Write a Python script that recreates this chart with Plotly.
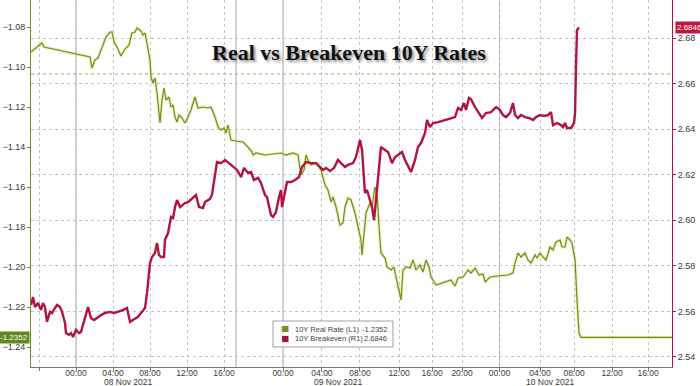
import plotly.graph_objects as go

# ---- data (x = position on the chart's intraday session index, hours from 08 Nov 00:00) ----
real_x = [-4.86, -3.68, -3.46, 1.51, 1.73, 2.05, 2.38, 2.70, 3.03, 3.24, 3.68, 3.89, 4.11, 4.43,
          4.86, 5.30, 5.73, 6.05, 6.38, 6.59, 7.03, 7.24, 7.46, 7.78, 8.00, 8.11, 8.32, 8.54, 8.76,
          9.08, 9.30, 9.51, 9.73, 10.05, 10.27, 10.49, 10.70, 10.92, 11.14, 11.46, 11.78, 12.11,
          12.43, 12.86, 13.19, 13.73, 14.27, 14.59, 15.03, 15.35, 15.68, 16.00, 16.22, 16.43, 16.76,
          17.30, 18.05, 18.59, 19.03, 19.14, 19.46, 20.43, 21.51, 22.16, 22.70, 23.46, 24.00, 24.32,
          24.65, 24.86, 25.08, 25.41, 25.95, 26.49, 26.92, 27.24, 27.57, 27.78, 28.11, 28.54, 28.86,
          29.08, 29.41, 29.73, 30.16, 30.49, 30.81, 30.92, 31.14, 31.35, 31.78, 32.00, 32.32, 32.54,
          32.76, 32.97, 33.41, 33.62, 34.05, 34.38, 34.59, 34.92, 35.14, 35.35, 35.68, 36.11, 36.43,
          36.76, 37.19, 37.51, 37.84, 38.16, 38.38, 38.92, 39.89, 40.54, 40.97, 41.30, 41.84, 42.38,
          42.70, 43.14, 43.57, 44.00, 44.22, 44.76, 45.62, 46.70, 47.24, 47.46, 47.78, 48.11, 48.54,
          48.86, 49.19, 49.62, 49.84, 50.16, 50.49, 50.81, 51.24, 51.57, 51.89, 52.32, 52.54, 52.86,
          53.08, 53.41, 53.62, 53.95, 54.16, 54.38, 54.59, 64.43]
real_y = [-1.0925, -1.088, -1.090, -1.095, -1.1005, -1.0965, -1.0955, -1.0915, -1.0875, -1.085,
          -1.0825, -1.0825, -1.0875, -1.090, -1.0945, -1.091, -1.089, -1.083, -1.0825, -1.0805,
          -1.082, -1.084, -1.083, -1.090, -1.0965, -1.105, -1.108, -1.1055, -1.113, -1.128, -1.1165,
          -1.1105, -1.1165, -1.115, -1.120, -1.119, -1.125, -1.1275, -1.124, -1.1255, -1.128, -1.125,
          -1.1215, -1.115, -1.1205, -1.120, -1.1205, -1.120, -1.125, -1.130, -1.1315, -1.1305,
          -1.133, -1.129, -1.1365, -1.137, -1.1375, -1.140, -1.1425, -1.144, -1.143, -1.144,
          -1.1435, -1.143, -1.144, -1.143, -1.144, -1.154, -1.1515, -1.144, -1.1465, -1.149, -1.148,
          -1.1515, -1.159, -1.1615, -1.1675, -1.165, -1.170, -1.179, -1.178, -1.170, -1.1655,
          -1.1665, -1.173, -1.180, -1.1865, -1.194, -1.183, -1.173, -1.168, -1.170, -1.160, -1.163,
          -1.180, -1.193, -1.1955, -1.200, -1.2015, -1.200, -1.205, -1.2115, -1.2165, -1.2015,
          -1.200, -1.2005, -1.1965, -1.2015, -1.199, -1.2025, -1.1965, -1.200, -1.205, -1.209,
          -1.2075, -1.2065, -1.2095, -1.2055, -1.205, -1.2015, -1.203, -1.2005, -1.204, -1.2035,
          -1.2075, -1.205, -1.2045, -1.204, -1.203, -1.198, -1.193, -1.195, -1.193, -1.1965, -1.198,
          -1.194, -1.1955, -1.193, -1.195, -1.1965, -1.190, -1.1915, -1.1875, -1.1865, -1.190,
          -1.190, -1.185, -1.1865, -1.188, -1.1965, -1.2165, -1.233, -1.2352, -1.2352]

be_x = [-4.86, -4.65, -4.43, -4.11, -3.78, -3.57, -3.35, -3.14, -2.81, -2.59, -2.27, -2.05, -1.73,
        -1.51, -1.19, -1.08, -0.76, -0.54, -0.32, 0.00, 0.32, 0.54, 0.97, 1.30, 1.62, 1.95, 2.27,
        2.70, 3.14, 3.68, 4.11, 4.54, 5.08, 5.51, 5.84, 6.16, 6.70, 7.14, 7.46, 7.68, 8.00, 8.22,
        8.54, 8.76, 8.97, 9.19, 9.51, 9.62, 9.95, 10.27, 10.49, 10.70, 10.92, 11.24, 11.46, 11.78,
        12.11, 12.65, 12.97, 13.30, 13.73, 13.95, 14.49, 14.70, 15.03, 15.24, 15.68, 16.11, 16.54,
        16.97, 17.41, 17.84, 18.16, 18.59, 18.92, 19.24, 19.68, 20.00, 20.43, 20.65, 21.08, 21.30,
        21.62, 21.95, 22.16, 22.27, 22.59, 22.81, 23.24, 23.68, 24.11, 24.43, 24.86, 25.41, 25.95,
        26.38, 26.70, 27.03, 27.46, 27.89, 28.32, 28.65, 29.08, 29.41, 29.95, 30.27, 30.70, 30.92,
        31.14, 31.24, 31.46, 31.78, 32.00, 32.22, 32.43, 32.76, 32.97, 33.41, 33.73, 34.16, 34.49,
        34.81, 35.24, 35.57, 36.00, 36.22, 36.65, 36.97, 37.30, 37.73, 37.95, 38.27, 38.59, 39.14,
        39.89, 40.54, 40.97, 41.30, 41.62, 41.95, 42.16, 42.49, 42.70, 43.14, 43.57, 43.89, 44.32,
        44.86, 45.41, 45.84, 46.16, 46.49, 46.92, 47.24, 47.46, 47.78, 48.11, 48.54, 48.97, 49.41,
        49.73, 50.16, 50.59, 51.03, 51.35, 51.57, 52.00, 52.43, 52.65, 52.86, 53.08, 53.51, 53.84,
        53.95, 54.05, 54.16, 54.38]
be_y = [2.5628, 2.5663, 2.5619, 2.5637, 2.5606, 2.5637, 2.5619, 2.5554, 2.5598, 2.5593, 2.5615,
        2.5628, 2.5619, 2.5598, 2.5549, 2.5505, 2.5497, 2.5505, 2.5488, 2.5519, 2.5505, 2.5510,
        2.5571, 2.5619, 2.5571, 2.5562, 2.5571, 2.5584, 2.5593, 2.5598, 2.5593, 2.5598, 2.5606,
        2.5615, 2.5554, 2.5562, 2.5576, 2.5598, 2.5615, 2.5681, 2.5813, 2.5839, 2.5857, 2.5900,
        2.5848, 2.5839, 2.5839, 2.5914, 2.5944, 2.6015, 2.6010, 2.6058, 2.6089, 2.6058, 2.6067,
        2.6076, 2.6080, 2.6102, 2.6111, 2.6058, 2.6054, 2.6080, 2.6094, 2.6111, 2.6208, 2.6256,
        2.6251, 2.6265, 2.6251, 2.6234, 2.6221, 2.6190, 2.6230, 2.6208, 2.6212, 2.6177, 2.6186,
        2.6164, 2.6111, 2.6102, 2.6023, 2.6015, 2.6036, 2.6102, 2.6133, 2.6058, 2.6124, 2.6168,
        2.6168, 2.6177, 2.6190, 2.6234, 2.6256, 2.6251, 2.6251, 2.6234, 2.6221, 2.6230, 2.6216,
        2.6230, 2.6265, 2.6251, 2.6234, 2.6243, 2.6251, 2.6278, 2.6352, 2.6309, 2.6146, 2.6120,
        2.6133, 2.6089, 2.6058, 2.6001, 2.6089, 2.6234, 2.6322, 2.6309, 2.6300, 2.6251, 2.6278,
        2.6287, 2.6300, 2.6265, 2.6234, 2.6212, 2.6265, 2.6322, 2.6339, 2.6383, 2.6440, 2.6409,
        2.6427, 2.6431, 2.6440, 2.6449, 2.6453, 2.6493, 2.6484, 2.6515, 2.6484, 2.6537, 2.6532,
        2.6497, 2.6471, 2.6449, 2.6471, 2.6475, 2.6497, 2.6484, 2.6462, 2.6453, 2.6471, 2.6515,
        2.6462, 2.6449, 2.6462, 2.6453, 2.6449, 2.6440, 2.6453, 2.6462, 2.6458, 2.6462, 2.6475,
        2.6418, 2.6427, 2.6418, 2.6409, 2.6427, 2.6405, 2.6405, 2.6427, 2.6471, 2.6673, 2.6835,
        2.6846]

tick_pos = [-4.0, 0.0, 4.0, 8.0, 12.0, 16.0, 22.38, 26.59, 30.70, 34.92, 38.49, 41.73,
            45.78, 50.16, 53.84, 57.95, 61.84]
tick_text = ["", "00:00", "04:00", "08:00", "12:00", "16:00", "00:00", "04:00", "08:00",
             "12:00", "16:00", "20:00", "00:00", "04:00", "08:00", "12:00", "16:00"]
day_lines = [0.0, 17.30, 22.38, 45.78]
day_labels = ["08 Nov 2021", "09 Nov 2021", "10 Nov 2021"]
day_label_pos = [5.62, 28.32, 51.24]
ref_level = -1.1035

real_name, real_last = "10Y Real Rate (L1)", -1.2352
be_name, be_last = "10Y Breakeven (R1)", 2.6846

GREEN = "#6f8f22"
RED = "#b3143e"
TXT = "#3a3a3a"

fig = go.Figure()
fig.add_trace(go.Scatter(x=real_x, y=real_y, mode="lines", yaxis="y",
                         line=dict(color="rgba(215,225,120,0.55)", width=3.0),
                         hoverinfo="skip", showlegend=False))
fig.add_trace(go.Scatter(x=real_x, y=real_y, mode="lines", yaxis="y", name=real_name,
                         line=dict(color=GREEN, width=1.2), showlegend=False))
fig.add_trace(go.Scatter(x=be_x, y=be_y, mode="lines", yaxis="y2", name=be_name,
                         line=dict(color=RED, width=2.4), showlegend=False))

shapes = []
for d in day_lines:
    shapes.append(dict(type="line", xref="x", yref="paper", x0=d, x1=d, y0=0, y1=1,
                       line=dict(color="#a8a8a8", width=1), layer="below"))
shapes.append(dict(type="line", xref="paper", yref="y", x0=0, x1=1, y0=ref_level, y1=ref_level,
                   line=dict(color="#a6ae52", width=1, dash="dot"), layer="below"))

# legend box (built from shapes + annotations)
lx0, lx1, ly0, ly1 = 0.3775, 0.5647, 0.0545, 0.1253
shapes.append(dict(type="rect", xref="paper", yref="paper", x0=lx0, x1=lx1, y0=ly0, y1=ly1,
                   line=dict(color="#a0a0a0", width=1), fillcolor="rgba(255,255,255,0.95)"))
rows = [(0.1035, GREEN, real_name, f"{real_last:.4f}"), (0.0763, "#a01838", be_name, f"{be_last:.4f}")]
annotations = []
for ry, col, nm, val in rows:
    shapes.append(dict(type="rect", xref="paper", yref="paper", x0=0.3917, x1=0.4017,
                       y0=ry - 0.0085, y1=ry + 0.0085, line=dict(width=0), fillcolor=col))
    annotations.append(dict(xref="paper", yref="paper", x=0.4085, y=ry, xanchor="left",
                            yanchor="middle", text=nm, showarrow=False,
                            font=dict(family="Liberation Sans", size=7.5, color="#444")))
    annotations.append(dict(xref="paper", yref="paper", x=0.5585, y=ry, xanchor="right",
                            yanchor="middle", text=val, showarrow=False,
                            font=dict(family="Liberation Sans", size=7.5, color="#444")))
annotations.append(dict(xref="paper", yref="paper", x=0.3850, y=0.1035, xanchor="left",
                        yanchor="middle", text="≡", showarrow=False,
                        font=dict(size=6, color="#999")))

# title
annotations.append(dict(xref="paper", yref="paper", x=0.4965, y=0.858, xanchor="center",
                        yanchor="middle", text="<b>Real vs Breakeven 10Y Rates</b>",
                        showarrow=False,
                        font=dict(family="Liberation Serif", size=22, color="#111",
                                  shadow="2px 2px 3px rgba(0,0,0,0.45)")))
# day labels
for pos, lab in zip(day_label_pos, day_labels):
    annotations.append(dict(xref="x", yref="paper", x=pos, y=-0.021, xanchor="center",
                            yanchor="top", text=lab, showarrow=False,
                            font=dict(family="Liberation Sans", size=8.5, color=TXT)))
# last-value tags
annotations.append(dict(xref="paper", yref="y", x=0, y=real_last, xanchor="right",
                        yanchor="middle", xshift=-1, text=f"{real_last:.4f}", showarrow=False,
                        bgcolor="#5e8a1e", borderpad=1,
                        font=dict(family="Liberation Sans", size=8, color="white")))
annotations.append(dict(xref="paper", yref="y2", x=1, y=be_last, xanchor="left",
                        yanchor="middle", xshift=3, text=f"{be_last:.4f}", showarrow=False,
                        bgcolor="#c0163f", borderpad=1,
                        font=dict(family="Liberation Sans", size=8, color="white")))

fig.update_layout(
    width=700, height=386,
    margin=dict(l=31, r=28, t=0, b=19),
    paper_bgcolor="white", plot_bgcolor="white",
    showlegend=False,
    font=dict(family="Liberation Sans", size=9, color=TXT),
    xaxis=dict(range=[-4.865, 64.43], tickmode="array", tickvals=tick_pos, ticktext=tick_text,
               showgrid=True, gridcolor="#c4c4c4", griddash="dot", gridwidth=1,
               showline=True, linecolor="#777", linewidth=1, ticks="outside", ticklen=3,
               tickcolor="#777", zeroline=False, ticklabelstandoff=-5,
               tickfont=dict(size=8.5, color=TXT)),
    yaxis=dict(range=[-1.25, -1.0665], tickmode="array",
               tickvals=[-1.24, -1.22, -1.20, -1.18, -1.16, -1.14, -1.12, -1.10, -1.08],
               tickformat=".2f", showgrid=False, zeroline=False, showline=True,
               linecolor=GREEN, linewidth=1, ticks="outside", ticklen=3, tickcolor=GREEN,
               tickfont=dict(size=9, color=TXT)),
    yaxis2=dict(range=[2.5356, 2.6967], overlaying="y", side="right", tickmode="array",
                tickvals=[2.54, 2.56, 2.58, 2.60, 2.62, 2.64, 2.66, 2.68], tickformat=".2f",
                showgrid=True, gridcolor="#c4c4c4", griddash="dot", gridwidth=1,
                zeroline=False, showline=True, linecolor=RED, linewidth=1, ticks="outside",
                ticklen=3, tickcolor=RED, tickfont=dict(size=9, color=TXT)),
    shapes=shapes,
    annotations=annotations,
)

fig.write_html("out.html", config={"displayModeBar": False},
               post_script="document.body.style.margin='0';document.body.style.overflow='hidden';")
